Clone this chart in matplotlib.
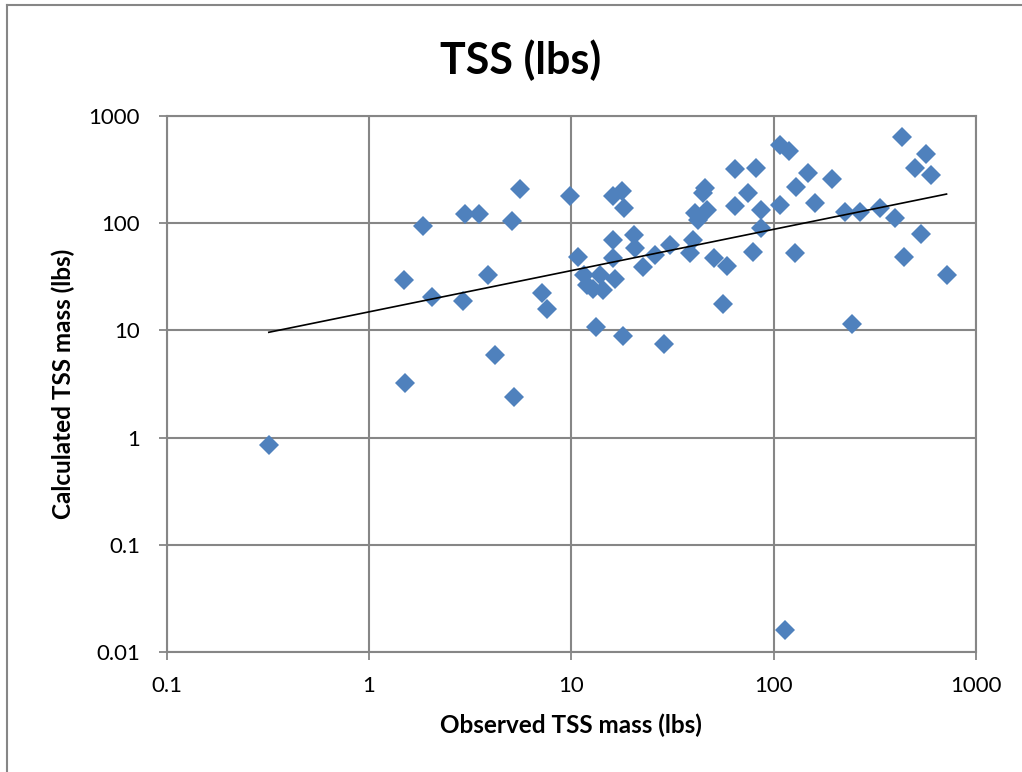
#!/usr/bin/env python3
import matplotlib

matplotlib.use("Agg")
import matplotlib.pyplot as plt
from matplotlib.lines import Line2D

# observed vs calculated TSS mass (lbs)
observed = [
  0.32, 1.84, 1.49, 1.51, 2.05, 2.99, 3.51, 5.59, 5.09, 3.89, 2.90, 7.16, 7.57, 4.18, 5.19, 9.88,
  16.0, 17.8, 18.3, 10.8, 16.1, 20.4, 20.6, 16.0, 16.5, 22.7, 25.9, 30.7, 40.0, 38.5, 50.5, 58.5,
  79.2, 86.5, 87.0, 40.8, 46.6, 42.4, 46.0, 45.0, 64.3, 82.0, 75.0, 64.3, 56.3, 13.3, 18.1, 28.6,
  11.5, 11.9, 12.8, 13.8, 14.3,
  107, 118.5, 108, 129, 148, 195, 160, 127, 225, 267, 335, 397, 533, 441, 715, 243, 431, 565,
  502, 596, 113.5,
]
calculated = [
  0.86, 94.6, 29.4, 3.23, 20.5, 123, 121, 208, 106, 33.0, 18.9, 22.4, 15.9, 5.87, 2.39, 179,
  179, 200, 140, 48.0, 69.5, 77.0, 59.0, 47.0, 30.5, 39.0, 51.0, 62.5, 69.5, 53.0, 47.0, 39.5,
  53.5, 91.0, 132, 125, 132, 107, 215, 190, 322, 330, 193, 144, 17.8, 10.8, 8.83, 7.55,
  32.8, 26.4, 24.6, 32.8, 23.7,
  536, 474, 148, 219, 292, 256, 156, 53.0, 126, 126, 140, 113, 80.0, 48.0, 33.0, 11.4, 641, 439,
  329, 281, 0.0159,
]

# power trendline y = a * x^b, as drawn in the reference
trend_a = 14.9
trend_b = 0.385

x_ticks = [0.1, 1, 10, 100, 1000]
x_tick_labels = ["0.1", "1", "10", "100", "1000"]
y_ticks = [0.01, 0.1, 1, 10, 100, 1000]
y_tick_labels = ["0.01", "0.1", "1", "10", "100", "1000"]

plt.rcParams["font.family"] = ["Lato", "DejaVu Sans"]

GRID = "#868686"
BLUE = "#4F81BD"

fig = plt.figure(figsize=(10.22, 7.72), dpi=100)
ax = fig.add_axes([0.163, 0.1554, 0.792, 0.6943])

xs = [min(observed), max(observed)]
ys = [trend_a * x ** trend_b for x in xs]

ax.plot(observed, calculated, linestyle="none", marker="D", markersize=9.8,
        color=BLUE, markeredgewidth=0, zorder=3)
ax.plot(xs, ys, color="black", linewidth=1.2, zorder=4)

ax.set_xscale("log")
ax.set_yscale("log")
ax.set_xlim(0.1, 1000)
ax.set_ylim(0.01, 1000)
ax.set_xticks(x_ticks)
ax.set_xticklabels(x_tick_labels)
ax.set_yticks(y_ticks)
ax.set_yticklabels(y_tick_labels)
ax.minorticks_off()
ax.tick_params(axis="both", which="major", direction="out", length=6, width=1.3,
               color=GRID, labelsize=16)
ax.tick_params(axis="y", pad=13)
ax.tick_params(axis="x", pad=11)

ax.grid(True, color=GRID, linewidth=1.5)
ax.set_axisbelow(True)
for spine in ax.spines.values():
  spine.set_color(GRID)
  spine.set_linewidth(1.5)

fig.text(521 / 1022, 1 - 60 / 772, "TSS (lbs)", fontsize=31, fontweight="bold",
         ha="center", va="center")
ax.set_xlabel("Observed TSS mass (lbs)", fontsize=17.5, fontweight="bold", labelpad=13)
ax.set_ylabel("Calculated TSS mass (lbs)", fontsize=17.5, fontweight="bold", labelpad=10)

# chart-area outline (left and top edges visible in the reference)
fig.add_artist(Line2D([7 / 1022, 7 / 1022], [0, 1 - 5 / 772], transform=fig.transFigure,
                      color=GRID, linewidth=1.5))
fig.add_artist(Line2D([7 / 1022, 1], [1 - 5 / 772, 1 - 5 / 772], transform=fig.transFigure,
                      color=GRID, linewidth=1.5))

fig.savefig("out.png", dpi=100)
